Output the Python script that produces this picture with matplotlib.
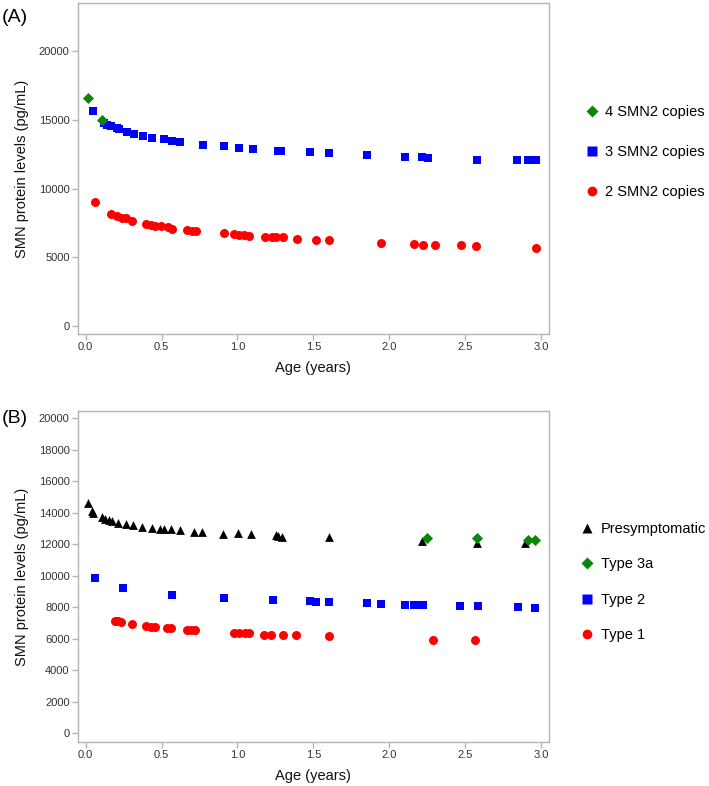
import matplotlib
matplotlib.use("Agg")
import matplotlib.pyplot as plt
from matplotlib.lines import Line2D

plt.rcParams['font.family'] = ['Liberation Sans', 'DejaVu Sans']

# --- panel A: by SMN2 copy number ---
a_cp4_x = [0.015, 0.107]
a_cp4_y = [16630, 14980]

a_cp3_x = [0.046, 0.118, 0.140, 0.166, 0.206, 0.223, 0.276, 0.322, 0.381, 0.440,
           0.518, 0.566, 0.625, 0.770, 0.910, 1.010, 1.100, 1.270, 1.290, 1.480,
           1.603, 1.852, 2.104, 2.215, 2.253, 2.580, 2.843, 2.910, 2.964]
a_cp3_y = [15660, 14790, 14660, 14550, 14420, 14330, 14090, 13960, 13820, 13700,
           13580, 13500, 13380, 13190, 13070, 12950, 12870, 12770, 12770, 12640,
           12560, 12440, 12310, 12310, 12240, 12120, 12050, 12050, 12050]

a_cp2_x = [0.063, 0.168, 0.206, 0.239, 0.265, 0.308, 0.398, 0.431, 0.457, 0.497,
           0.545, 0.571, 0.671, 0.704, 0.730, 0.912, 0.976, 1.008, 1.040, 1.078,
           1.179, 1.229, 1.255, 1.300, 1.390, 1.520, 1.605, 1.948, 2.165, 2.219,
           2.299, 2.470, 2.572, 2.965]
a_cp2_y = [9020, 8190, 8000, 7880, 7830, 7680, 7440, 7350, 7300, 7250,
           7180, 7100, 6960, 6910, 6910, 6740, 6670, 6620, 6620, 6550,
           6500, 6450, 6450, 6450, 6350, 6230, 6230, 6080, 5980, 5930,
           5930, 5870, 5800, 5650]

# --- panel B: by SMA type ---
b_pre_x = [0.015, 0.041, 0.052, 0.107, 0.125, 0.155, 0.173, 0.212, 0.267, 0.315,
           0.374, 0.435, 0.492, 0.518, 0.562, 0.621, 0.713, 0.766, 0.906, 1.004,
           1.091, 1.251, 1.270, 1.293, 1.600, 2.212, 2.575, 2.896]
b_pre_y = [14580, 14110, 13950, 13690, 13590, 13520, 13460, 13370, 13270, 13210,
           13100, 13030, 12950, 12930, 12930, 12890, 12780, 12760, 12650, 12680,
           12610, 12550, 12530, 12470, 12420, 12210, 12080, 12040]

b_t3a_x = [2.249, 2.580, 2.913, 2.957]
b_t3a_y = [12380, 12360, 12240, 12250]

b_t2_x = [0.063, 0.245, 0.566, 0.912, 1.236, 1.478, 1.518, 1.600, 1.852, 1.946,
          2.101, 2.165, 2.193, 2.219, 2.464, 2.584, 2.847, 2.958]
b_t2_y = [9840, 9190, 8780, 8570, 8420, 8370, 8300, 8300, 8230, 8170,
          8110, 8110, 8110, 8110, 8060, 8060, 8000, 7960]

b_t1_x = [0.193, 0.212, 0.231, 0.306, 0.395, 0.428, 0.454, 0.534, 0.560, 0.666,
          0.694, 0.722, 0.976, 1.007, 1.052, 1.078, 1.176, 1.219, 1.299, 1.388,
          1.603, 2.290, 2.562]
b_t1_y = [7130, 7100, 7070, 6920, 6810, 6750, 6730, 6650, 6650, 6540,
          6540, 6540, 6370, 6370, 6330, 6330, 6240, 6240, 6200, 6200,
          6160, 5930, 5880]

x_ticks = [0.0, 0.5, 1.0, 1.5, 2.0, 2.5, 3.0]
a_yticks = [0, 5000, 10000, 15000, 20000]
b_yticks = list(range(0, 20001, 2000))

GREEN = '#0a870a'
BLUE = '#0000ff'
RED = '#ff0000'
FRAME = '#b4b4b4'
TXT = '#333333'

fig = plt.figure(figsize=(7.09, 7.86), dpi=100)
axA = fig.add_axes([0.110, 0.575, 0.664, 0.421])
axB = fig.add_axes([0.110, 0.056, 0.664, 0.421])


def style(ax, yticks, ylim):
    ax.set_xlim(-0.05, 3.05)
    ax.set_ylim(*ylim)
    ax.set_xticks(x_ticks)
    ax.set_xticklabels([f"{t:.1f}" for t in x_ticks])
    ax.set_yticks(yticks)
    for s in ax.spines.values():
        s.set_color(FRAME)
        s.set_linewidth(1.0)
    ax.tick_params(direction='out', length=4, width=1, color=FRAME,
                   labelsize=8, labelcolor=TXT, pad=2)
    ax.set_xlabel('Age (years)', fontsize=10.5, color='#111111', labelpad=6)
    ax.set_ylabel('SMN protein levels (pg/mL)', fontsize=10.5, color='#111111', labelpad=7)


# panel A
axA.scatter(a_cp2_x, a_cp2_y, marker='o', s=42, color=RED, linewidths=0, zorder=3)
axA.scatter(a_cp3_x, a_cp3_y, marker='s', s=38, color=BLUE, linewidths=0, zorder=3)
axA.scatter(a_cp4_x, a_cp4_y, marker='D', s=32, color=GREEN, linewidths=0, zorder=4)
style(axA, a_yticks, (-580, 23500))

hA = [Line2D([], [], ls='', marker='D', ms=6.2, color=GREEN, mec='none'),
      Line2D([], [], ls='', marker='s', ms=6.5, color=BLUE, mec='none'),
      Line2D([], [], ls='', marker='o', ms=7, color=RED, mec='none')]
fig.legend(hA, ['4 SMN2 copies', '3 SMN2 copies', '2 SMN2 copies'],
           loc='center left', bbox_to_anchor=(0.824, 0.8066), frameon=False,
           fontsize=10.5, borderpad=0, borderaxespad=0, handlelength=1,
           handletextpad=0.45, labelspacing=1.8, numpoints=1)

# panel B
axB.scatter(b_t1_x, b_t1_y, marker='o', s=42, color=RED, linewidths=0, zorder=3)
axB.scatter(b_t2_x, b_t2_y, marker='s', s=38, color=BLUE, linewidths=0, zorder=3)
axB.scatter(b_pre_x, b_pre_y, marker='^', s=40, color='black', linewidths=0, zorder=3)
axB.scatter(b_t3a_x, b_t3a_y, marker='D', s=32, color=GREEN, linewidths=0, zorder=4)
style(axB, b_yticks, (-570, 20450))

hB = [Line2D([], [], ls='', marker='^', ms=6.5, color='black', mec='none'),
      Line2D([], [], ls='', marker='D', ms=6.2, color=GREEN, mec='none'),
      Line2D([], [], ls='', marker='s', ms=6.5, color=BLUE, mec='none'),
      Line2D([], [], ls='', marker='o', ms=7, color=RED, mec='none')]
fig.legend(hB, ['Presymptomatic', 'Type 3a', 'Type 2', 'Type 1'],
           loc='center left', bbox_to_anchor=(0.818, 0.2595), frameon=False,
           fontsize=10.5, borderpad=0, borderaxespad=0, handlelength=1,
           handletextpad=0.45, labelspacing=1.45, numpoints=1)

fig.text(0.003, 0.978, '(A)', fontsize=14, va='center', ha='left')
fig.text(0.003, 0.468, '(B)', fontsize=14, va='center', ha='left')

fig.savefig('out.png', dpi=100)
